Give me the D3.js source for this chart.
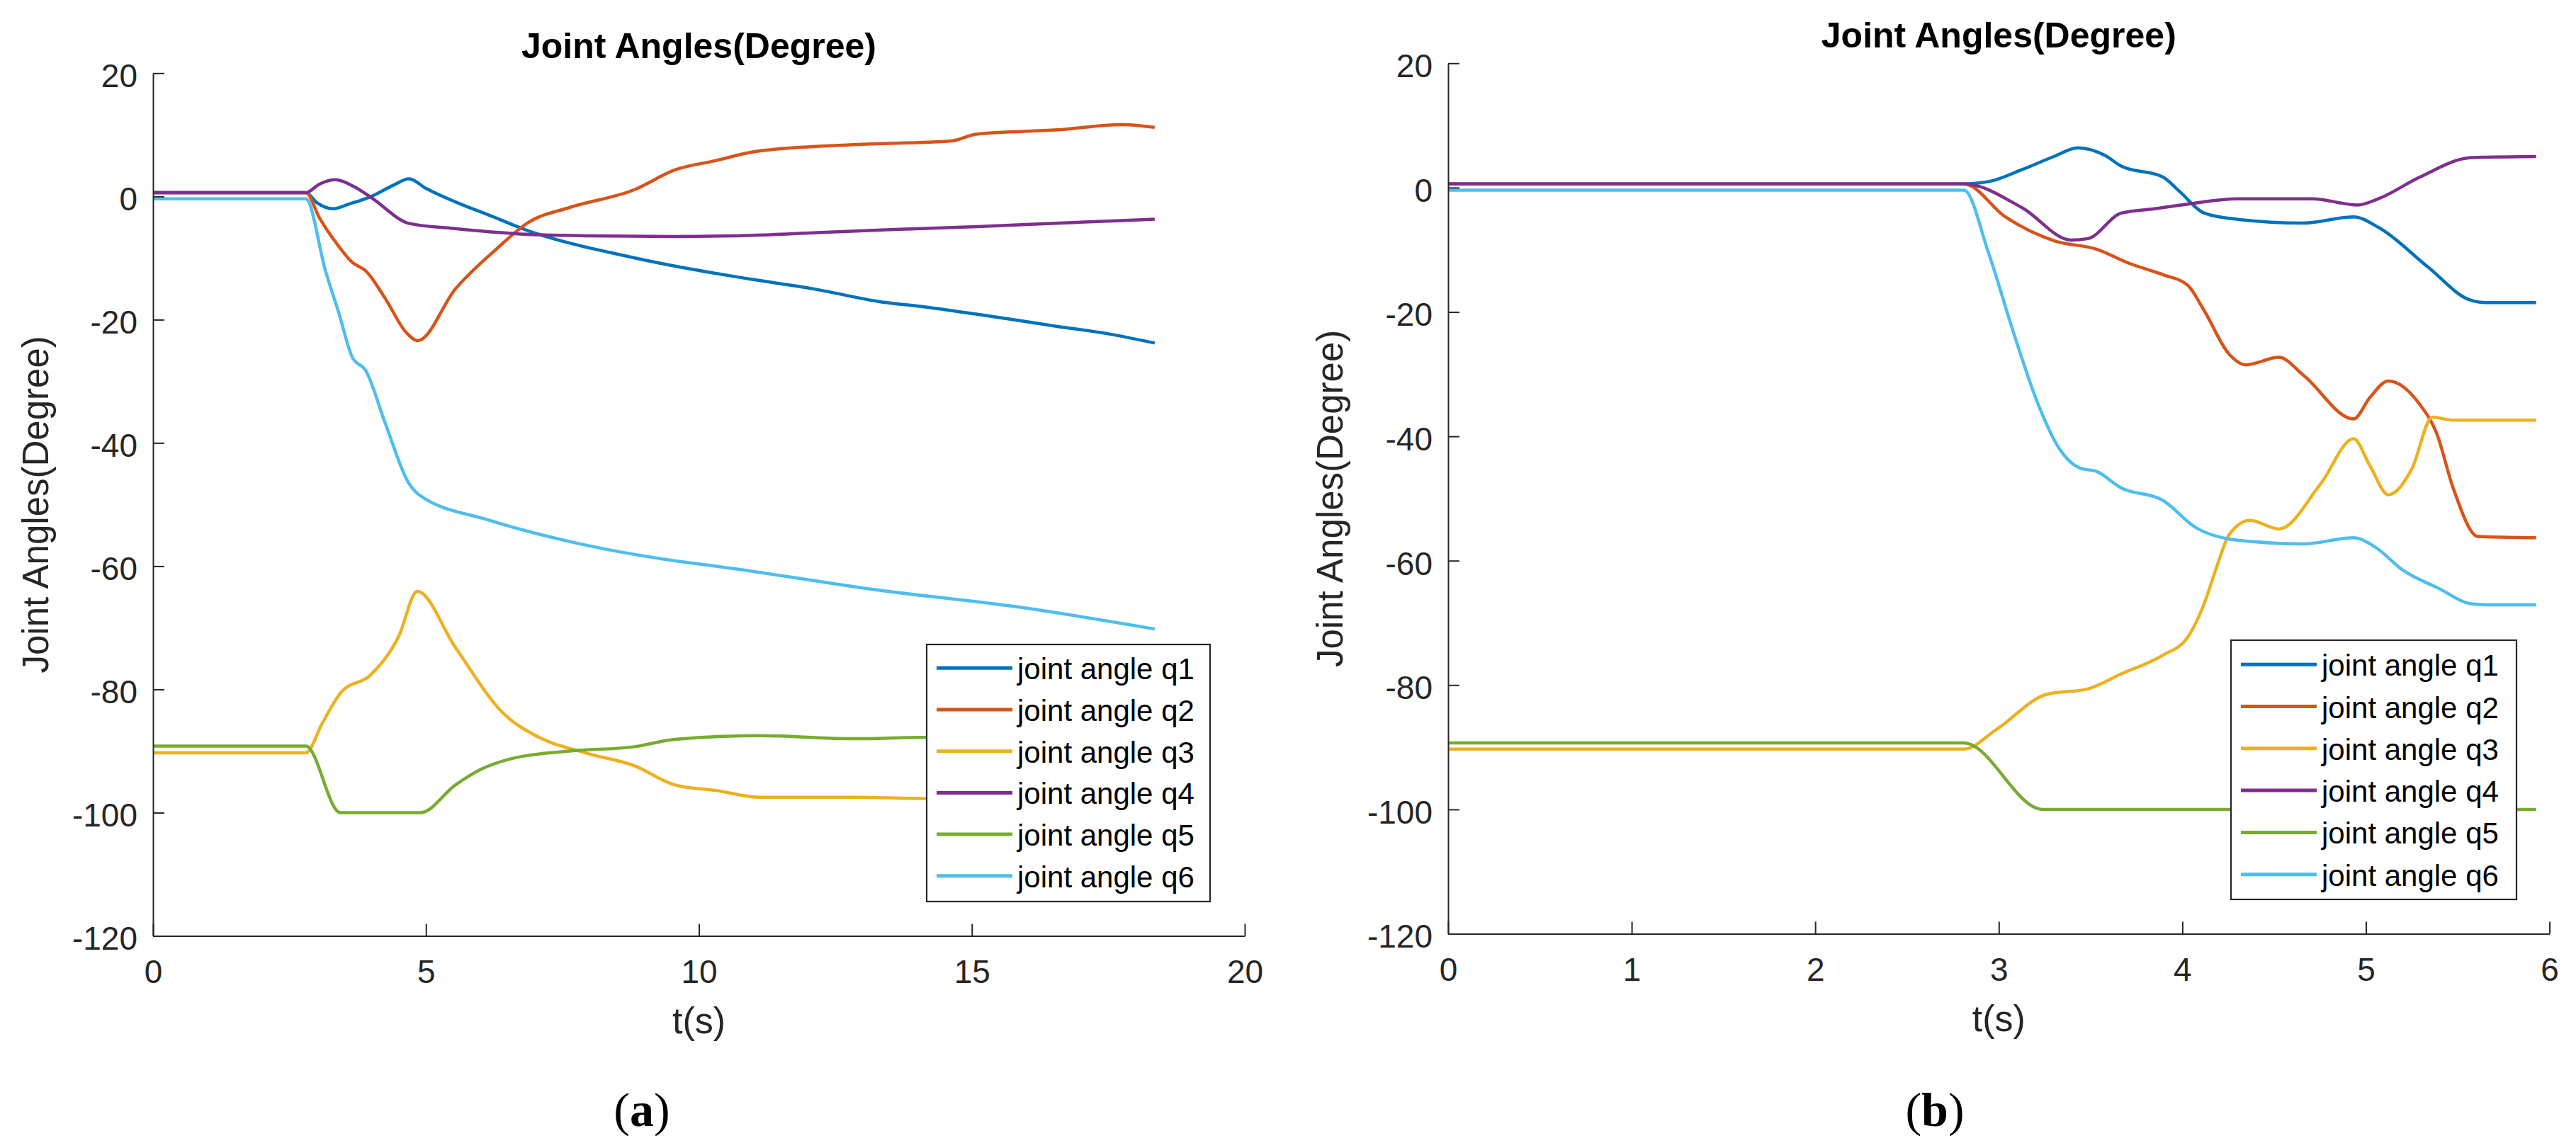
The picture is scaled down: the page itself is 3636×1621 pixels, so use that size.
<!DOCTYPE html>
<html>
<head>
<meta charset="utf-8">
<script src="https://cdn.jsdelivr.net/npm/d3@7"></script>
<style>
    body { margin: 0; background: #fff; }
    svg { display: block; }
</style>
</head>
<body>
<script>
// legend names and tick values
const seriesNames = ["joint angle q1", "joint angle q2", "joint angle q3",
                     "joint angle q4", "joint angle q5", "joint angle q6"];
const yTicks = [-120, -100, -80, -60, -40, -20, 0, 20];
const xTicksA = [0, 5, 10, 15, 20];
const xTicksB = [0, 1, 2, 3, 4, 5, 6];

// panel (a): [t, angle]
const aQ1 = [[0,0.6],[2.8,0.6],[3.0,-1.0],[3.3,-2.0],[3.6,-1.2],[4.0,0.0],[4.4,1.8],[4.69,2.86],[5.0,1.3],[5.54,-0.9],
             [6.2,-3.2],[6.88,-5.6],[7.6,-7.5],[8.37,-9.1],[9.1,-10.5],[9.86,-11.8],[11.0,-13.5],[12.1,-15.0],
             [13.29,-17.05],[14.2,-18.0],[15.08,-19.1],[16.57,-21.1],[17.5,-22.3],[18.35,-23.8]];
const aQ2 = [[0,0.6],[2.8,0.6],[3.05,-3.5],[3.36,-7.6],[3.65,-10.7],[3.9,-12.1],[4.25,-16.5],[4.65,-22.2],[4.85,-23.4],
             [5.54,-15.0],[6.29,-8.55],[6.88,-4.2],[7.63,-1.8],[8.82,1.1],[9.56,4.3],[10.3,5.8],[11.05,7.3],
             [12.84,8.4],[14.63,9.0],[15.08,10.1],[16.57,10.8],[17.76,11.65],[18.35,11.2]];
const aQ3 = [[0,-90.3],[2.8,-90.3],[3.1,-85.5],[3.45,-80.4],[3.98,-77.7],[4.5,-71.4],[4.84,-64.1],[5.54,-73.2],
             [6.43,-84.0],[7.03,-87.6],[7.92,-90.3],[8.82,-92.4],[9.56,-95.5],[10.31,-96.4],[11.13,-97.5],
             [12.84,-97.5],[14.1,-97.7],[15.5,-97.5],[17.0,-97.3],[18.35,-97.0]];
const aQ4 = [[0,0.6],[2.8,0.6],[3.05,2.0],[3.34,2.7],[3.7,1.5],[4.0,-0.2],[4.7,-4.4],[5.5,-5.2],[6.73,-6.1],
             [8.0,-6.4],[9.56,-6.5],[11.0,-6.3],[12.1,-5.9],[13.5,-5.4],[15.1,-4.9],[16.7,-4.3],[18.35,-3.7]];
const aQ5 = [[0,-89.2],[2.8,-89.2],[3.43,-100],[4.9,-100],[5.54,-95.5],[6.0,-93.0],[6.58,-91.2],[7.63,-90.0],
             [8.82,-89.3],[9.56,-88.1],[11.13,-87.5],[12.84,-88.0],[14.1,-87.8],[16.0,-87.8],[18.35,-87.6]];
const aQ6 = [[0,-0.4],[2.8,-0.4],[3.16,-12.1],[3.41,-19.1],[3.65,-26.1],[3.9,-28.3],[4.25,-36.7],[4.69,-46.6],
             [4.87,-48.4],[6.14,-52.5],[7.63,-56.0],[9.86,-59.5],[10.31,-60.0],[13.29,-63.9],[15.82,-66.6],[18.35,-70.2]];

// panel (b)
const bQ1 = [[0,0.6],[2.81,0.6],[2.95,1.0],[3.125,2.87],[3.3,5.0],[3.43,6.4],[3.577,5.2],[3.667,3.45],[3.894,1.7],
             [3.984,-0.6],[4.119,-4.1],[4.3,-5.1],[4.662,-5.7],[4.933,-4.7],[5.068,-6.4],[5.339,-12.8],
             [5.565,-18.05],[5.656,-18.5],[5.927,-18.5]];
const bQ2 = [[0,0.6],[2.81,0.6],[3.035,-4.7],[3.306,-8.6],[3.532,-9.9],[3.712,-12.2],[3.894,-14.0],[4.029,-15.7],
             [4.119,-19.8],[4.255,-26.8],[4.345,-28.5],[4.526,-27.3],[4.662,-30.25],[4.933,-37.2],[5.023,-33.7],
             [5.122,-31.1],[5.294,-34.9],[5.385,-39.5],[5.475,-48.3],[5.611,-56.1],[5.927,-56.3]];
const bQ3 = [[0,-90.3],[2.81,-90.3],[2.989,-87.1],[3.26,-81.5],[3.486,-80.6],[3.667,-78.2],[3.894,-75.2],
             [4.029,-72.3],[4.119,-66.9],[4.187,-61.0],[4.255,-55.8],[4.368,-53.5],[4.526,-54.9],[4.752,-47.7],
             [4.933,-40.4],[5.023,-44.8],[5.122,-49.4],[5.249,-45.3],[5.362,-36.9],[5.475,-37.4],[5.927,-37.4]];
const bQ4 = [[0,0.6],[2.81,0.6],[3.125,-3.2],[3.396,-8.45],[3.486,-8.2],[3.667,-4.1],[3.848,-3.4],[4.029,-2.65],
             [4.3,-1.8],[4.707,-1.8],[4.955,-2.8],[5.068,-1.8],[5.294,1.7],[5.565,4.8],[5.656,4.9],[5.927,5.0]];
const bQ5 = [[0,-89.3],[2.81,-89.3],[3.238,-100],[5.927,-100]];
const bQ6 = [[0,-0.4],[2.81,-0.4],[2.944,-10.5],[3.08,-23.3],[3.215,-34.9],[3.328,-41.9],[3.441,-45.1],
             [3.532,-45.65],[3.667,-48.3],[3.894,-50.3],[4.074,-54.7],[4.3,-56.7],[4.662,-57.3],[4.933,-56.3],
             [5.05,-57.8],[5.2,-61.5],[5.4,-64.5],[5.565,-66.9],[5.656,-67.1],[5.927,-67.1]];

const colors = ["#0072BD", "#D95319", "#EDB120", "#7E2F8E", "#77AC30", "#4DBEEE"];
const axisColor = "#262626";
const sans = "'Liberation Sans', Arial, sans-serif";

const width = 3636, height = 1621;

const svg = d3.select("body")
    .append("svg")
    .attr("width", width)
    .attr("height", height);

function drawPanel(p) {
    let x = d3.scaleLinear().domain(p.xDomain).range([p.left, p.right]);
    let y = d3.scaleLinear().domain([-120, 20]).range([p.bottom, p.top]);
    let g = svg.append("g");

    // plain hyphen like matlab, not the unicode minus
    let fmt = (d) => String(d);

    let xAxis = d3.axisBottom(x)
        .tickValues(p.xTicks)
        .tickFormat(fmt)
        .tickSizeInner(-17)
        .tickSizeOuter(0)
        .tickPadding(34);
    let yAxis = d3.axisLeft(y)
        .tickValues(yTicks)
        .tickFormat(fmt)
        .tickSizeInner(-16)
        .tickSizeOuter(0)
        .tickPadding(22);

    let line = d3.line()
        .x((d) => x(d[0]))
        .y((d) => y(d[1]))
        .curve(d3.curveMonotoneX);

    p.series.forEach(function(s, i) {
        g.append("path")
            .attr("d", line(s))
            .attr("fill", "none")
            .attr("stroke", colors[i])
            .attr("stroke-width", 4.5)
            .attr("stroke-linejoin", "round");
    });

    let gx = g.append("g")
        .attr("transform", `translate(0, ${p.bottom})`)
        .call(xAxis);
    let gy = g.append("g")
        .attr("transform", `translate(${p.left}, 0)`)
        .call(yAxis);

    [gx, gy].forEach(function(a) {
        a.selectAll("path, line").attr("stroke", axisColor).attr("stroke-width", 2);
        a.selectAll("text")
            .attr("fill", axisColor)
            .style("font-family", sans)
            .style("font-size", "46px");
    });
    gy.selectAll("text").attr("dy", "0.42em");

    // title
    g.append("text")
        .attr("x", (p.left + p.right) / 2)
        .attr("y", p.titleY)
        .attr("text-anchor", "middle")
        .style("font-family", sans)
        .style("font-size", "50px")
        .style("font-weight", "bold")
        .text("Joint Angles(Degree)");

    // axis labels
    g.append("text")
        .attr("x", (p.left + p.right) / 2)
        .attr("y", p.bottom + 137)
        .attr("text-anchor", "middle")
        .attr("fill", axisColor)
        .style("font-family", sans)
        .style("font-size", "52px")
        .text("t(s)");

    g.append("text")
        .attr("transform", `translate(${p.yLabelX}, ${(p.top + p.bottom) / 2}) rotate(-90)`)
        .attr("text-anchor", "middle")
        .attr("fill", axisColor)
        .style("font-family", sans)
        .style("font-size", "51px")
        .text("Joint Angles(Degree)");

    // legend
    let lg = p.legend;
    g.append("rect")
        .attr("x", lg.x0)
        .attr("y", lg.y0)
        .attr("width", lg.x1 - lg.x0)
        .attr("height", lg.y1 - lg.y0)
        .attr("fill", "#fff")
        .attr("stroke", axisColor)
        .attr("stroke-width", 2.2);
    seriesNames.forEach(function(name, i) {
        let ly = lg.row0 + i * lg.step;
        g.append("line")
            .attr("x1", lg.x0 + 14)
            .attr("x2", lg.x0 + 121)
            .attr("y1", ly)
            .attr("y2", ly)
            .attr("stroke", colors[i])
            .attr("stroke-width", 5);
        g.append("text")
            .attr("x", lg.x0 + 128)
            .attr("y", ly + 16)
            .style("font-family", sans)
            .style("font-size", "42px")
            .text(name);
    });

    // sub caption
    let cap = g.append("text")
        .attr("x", p.capX)
        .attr("y", 1590)
        .attr("text-anchor", "middle")
        .style("font-family", "'Liberation Serif', 'Times New Roman', serif")
        .style("font-size", "68px");
    cap.append("tspan").text("(");
    cap.append("tspan").style("font-weight", "bold").text(p.capLetter);
    cap.append("tspan").text(")");
}

drawPanel({
    xDomain: [0, 20], xTicks: xTicksA,
    left: 216, right: 1757, top: 103.3, bottom: 1321.5,
    titleY: 82, yLabelX: 68, capX: 906, capLetter: "a",
    legend: { x0: 1308, x1: 1708, y0: 910, y1: 1273, row0: 943.3, step: 58.7 },
    series: [aQ1, aQ2, aQ3, aQ4, aQ5, aQ6]
});

drawPanel({
    xDomain: [0, 6], xTicks: xTicksB,
    left: 2044, right: 3598.6, top: 89.3, bottom: 1318.5,
    titleY: 67, yLabelX: 1895, capX: 2731, capLetter: "b",
    legend: { x0: 3149, x1: 3552, y0: 904, y1: 1270, row0: 938.2, step: 59.3 },
    series: [bQ1, bQ2, bQ3, bQ4, bQ5, bQ6]
});
</script>
</body>
</html>
